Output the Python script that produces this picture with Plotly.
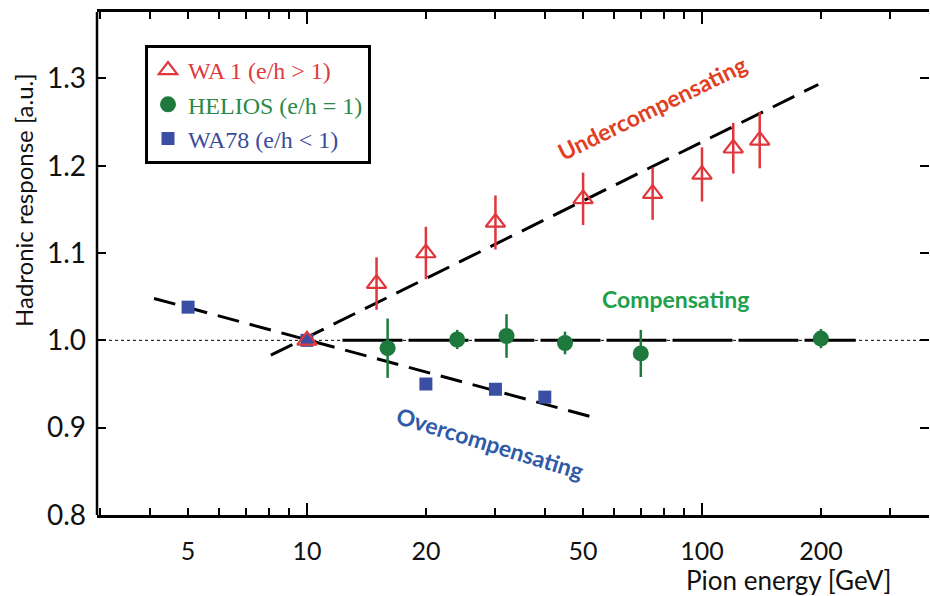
import plotly.graph_objects as go
import numpy as np

# ---- measured data -------------------------------------------------------
# WA1 (e/h > 1)
wa1_energy = [10, 15, 20, 30, 50, 75, 100, 120, 140]
wa1_resp = [1.000, 1.065, 1.100, 1.135, 1.162, 1.168, 1.190, 1.220, 1.229]
wa1_err = [0.0, 0.030, 0.030, 0.031, 0.030, 0.030, 0.031, 0.029, 0.032]

# HELIOS (e/h = 1)
helios_energy = [16, 24, 32, 45, 70, 200]
helios_resp = [0.991, 1.001, 1.005, 0.997, 0.985, 1.002]
helios_err = [0.034, 0.011, 0.025, 0.013, 0.027, 0.011]

# WA78 (e/h < 1)
wa78_energy = [5, 10, 20, 30, 40]
wa78_resp = [1.038, 1.000, 0.950, 0.944, 0.935]

# straight-line trends (end points)
under_fit_energy = [8.1, 197]
under_fit_resp = [0.983, 1.293]
comp_fit_energy = [12.3, 245]
comp_fit_resp = [1.0, 1.0]
over_fit_energy = [4.1, 54]
over_fit_resp = [1.048, 0.911]

# axis ticks
x_tick_vals = [3, 4, 5, 6, 7, 8, 9, 10, 20, 30, 40, 50, 60, 70, 80, 90, 100, 200, 300]
x_labelled = [5, 10, 20, 50, 100, 200]
x_long_ticks = [10, 100]
y_tick_vals = [0.8, 0.9, 1.0, 1.1, 1.2, 1.3]

# ---- styling ---------------------------------------------------------------
RED = "#e0373c"
GREEN = "#1e7a3c"
BLUE = "#3a4ea3"
SANS = "Lato, 'Open Sans', sans-serif"
X_RANGE = [0.4684, 2.5747]
Y_RANGE = [0.8, 1.376]

fig = go.Figure()

# reference level at unit response
fig.add_shape(type="line", xref="paper", yref="y", x0=0, x1=1, y0=1.0, y1=1.0,
              line=dict(color="black", width=1, dash="dot"), layer="below")

for xs, ys, dash in [(under_fit_energy, under_fit_resp, "24px,11px"),
                     (over_fit_energy, over_fit_resp, "22px,11px"),
                     (comp_fit_energy, comp_fit_resp, "60px,6px")]:
    fig.add_trace(go.Scatter(x=xs, y=ys, mode="lines", showlegend=False,
                             line=dict(color="black", width=3, dash=dash),
                             hoverinfo="skip"))

fig.add_trace(go.Scatter(
    x=wa78_energy, y=wa78_resp, mode="markers",
    name='<span style="color:#3b4b9b">WA78 (e/h &lt; 1)</span>',
    marker=dict(symbol="square", size=13, color=BLUE),
    legendrank=3, legendgroup="c"))

fig.add_trace(go.Scatter(
    x=helios_energy, y=helios_resp, mode="markers",
    name='<span style="color:#2a8a48">HELIOS (e/h = 1)</span>',
    marker=dict(symbol="circle", size=16, color=GREEN),
    error_y=dict(type="data", array=helios_err, color=GREEN, thickness=2.5, width=0),
    legendrank=2, legendgroup="b"))

fig.add_trace(go.Scatter(
    x=wa1_energy, y=wa1_resp, mode="markers",
    name='<span style="color:#e0393e">WA 1 (e/h &gt; 1)</span>',
    marker=dict(symbol="triangle-up-open", size=17, color=RED, line=dict(width=2.2, color=RED)),
    error_y=dict(type="data", array=wa1_err, color=RED, thickness=2.5, width=0),
    legendrank=1, legendgroup="a"))

# longer ticks at the decades on an overlaid axis
fig.add_trace(go.Scatter(x=x_long_ticks, y=[None, None], xaxis="x2", showlegend=False,
                         hoverinfo="skip"))

# left frame line
fig.add_shape(type="line", xref="paper", yref="paper", x0=0, x1=0, y0=0, y1=1,
              line=dict(color="black", width=2.5))

annotations = [
    dict(text="Undercompensating", x=np.log10(74.7), y=1.266, xref="x", yref="y",
         textangle=-26, showarrow=False,
         font=dict(family=SANS, size=23, color="#e0401f", weight="bold")),
    dict(text="Compensating", x=np.log10(85.9), y=1.047, xref="x", yref="y",
         showarrow=False,
         font=dict(family=SANS, size=23, color="#1fa04a", weight="bold")),
    dict(text="Overcompensating", x=np.log10(29.1), y=0.882, xref="x", yref="y",
         textangle=17, showarrow=False,
         font=dict(family=SANS, size=23, color="#2e5aa8", weight="bold")),
    dict(text="Pion energy [GeV]", x=(893 - 97) / 832, y=(515 - 580) / 503,
         xref="paper", yref="paper", xanchor="right", yanchor="middle",
         showarrow=False, font=dict(family=SANS, size=26, color="#111")),
    dict(text="Hadronic response [a.u.]", x=(23 - 97) / 832, y=(515 - 200) / 503,
         xref="paper", yref="paper", textangle=-90, showarrow=False,
         xanchor="center", yanchor="middle",
         font=dict(family=SANS, size=24, color="#111")),
]

fig.update_layout(
    width=930, height=596,
    margin=dict(l=97, r=1, t=12, b=81),
    paper_bgcolor="white", plot_bgcolor="white",
    showlegend=True,
    legend=dict(x=(145 - 97) / 832, y=(515 - 45) / 503, xanchor="left", yanchor="top",
                bgcolor="white", bordercolor="black", borderwidth=3,
                font=dict(family="'Liberation Serif', 'Times New Roman', serif", size=24),
                tracegroupgap=0, traceorder="grouped"),
    annotations=annotations,
    xaxis=dict(type="log", range=X_RANGE, showgrid=False, zeroline=False,
               showline=True, mirror="ticks", linecolor="black", linewidth=2.5,
               ticks="inside", ticklen=7, tickwidth=1.5, tickcolor="black",
               tickvals=x_tick_vals,
               ticktext=[str(v) if v in x_labelled else "" for v in x_tick_vals],
               ticklabelstandoff=12,
               tickfont=dict(family=SANS, size=25, color="#111")),
    xaxis2=dict(type="log", range=X_RANGE, overlaying="x", anchor="y", side="bottom",
                showgrid=False, zeroline=False, showline=False, mirror="ticks",
                ticks="inside", ticklen=12, tickwidth=1.5, tickcolor="black",
                tickvals=x_long_ticks, showticklabels=False),
    yaxis=dict(range=Y_RANGE, showgrid=False, zeroline=False,
               showline=False, mirror="ticks",
               ticks="inside", ticklen=9, tickwidth=1.5, tickcolor="black",
               tickvals=y_tick_vals, tickformat=".1f",
               ticklabelstandoff=10,
               tickfont=dict(family=SANS, size=28, color="#111")),
)

fig.write_html("out.html")
